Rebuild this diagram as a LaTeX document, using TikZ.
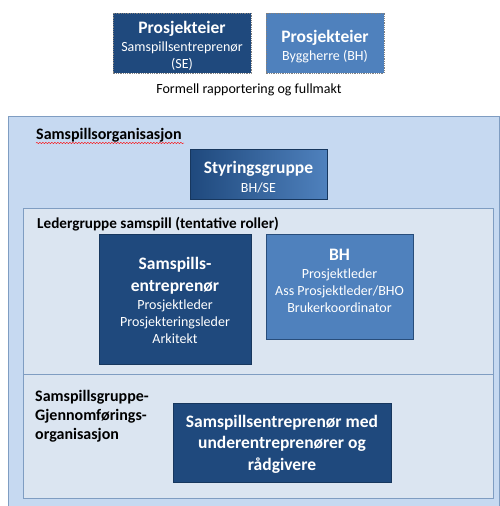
\documentclass[tikz,border=0pt]{standalone}
\usepackage{fontspec}
\setmainfont{Carlito}
\usetikzlibrary{decorations.pathmorphing}
\definecolor{darkb}{HTML}{1F497D}
\definecolor{midb}{HTML}{4F81BD}
\definecolor{outerf}{HTML}{C6D9F1}
\definecolor{innerf}{HTML}{DBE5F1}
\definecolor{panelb}{HTML}{7F9DC2}
\definecolor{boxb}{HTML}{17375E}
\tikzset{
  regf/.style={font=\fontsize{14}{17}\selectfont},
  panel/.style={draw=panelb, line width=1pt, fill=innerf},
  darkbox/.style={draw=boxb, line width=0.8pt, fill=darkb},
  midbox/.style={draw=boxb!70!midb, line width=0.8pt, fill=midb},
  boxtext/.style={text=white, align=center, inner sep=0pt, regf},
  lab/.style={anchor=base west, inner sep=0pt, font=\fontsize{16}{17}\selectfont\bfseries},
}
\newcommand{\bigb}[1]{{\fontsize{17.5}{17}\selectfont\bfseries #1}}
\begin{document}
\begin{tikzpicture}[x=1pt,y=-1pt]
\useasboundingbox (0,0) rectangle (499,506);
% top boxes
\draw[fill=darkb, draw=gray, densely dotted, line width=0.8pt] (113,13) rectangle (251,73);
\node[boxtext] (pe1) at (182,46) {\bigb{Prosjekteier}\\[1pt]Samspillsentreprenør\\(SE)};
\draw[fill=midb, draw=gray, densely dotted, line width=0.8pt] (266,13) rectangle (384,73);
\node[boxtext] (pe2) at (325,46.5) {\bigb{Prosjekteier}\\[1pt]Byggherre (BH)};
\node[regf, inner sep=0pt] (fr) at (249,90) {Formell rapportering og fullmakt};
% outer
\draw[fill=outerf, draw=panelb, line width=1pt] (8,116) rectangle (499,506);
\node[lab] (so) at (36,139) {Samspillsorganisasjon};
\draw[red, line width=0.4pt, decorate, decoration={snake, amplitude=0.7pt, segment length=3pt}] (36,143) -- (184,143);
% styringsgruppe
\shade[left color=darkb, right color=midb] (190,149) rectangle (327,199);
\draw[draw=boxb, line width=0.8pt] (190,149) rectangle (327,199);
\node[boxtext] (sg) at (258.5,177) {\bigb{Styringsgruppe}\\[2pt]BH/SE};
% panels
\draw[panel] (23,208) rectangle (493,374);
\node[lab, font=\fontsize{15.2}{17}\selectfont\bfseries] (lg) at (37,228) {Ledergruppe samspill (tentative roller)};
\draw[panel] (23,374) rectangle (493,498);
\node[lab, align=left, anchor=north west, font=\fontsize{16}{19}\selectfont\bfseries] (sgg) at (35,390) {Samspillsgruppe-\\Gjennomførings-\\organisasjon};
% SE box
\draw[darkbox] (99,234) rectangle (251,364);
\node[boxtext] (se) at (175,300.5) {\bigb{Samspills-}\\[5pt]\bigb{entreprenør}\\[1pt]Prosjektleder\\Prosjekteringsleder\\Arkitekt};
% BH box
\draw[midbox] (266,234) rectangle (413,339);
\node[boxtext] (bh) at (339.5,280.5) {\bigb{BH}\\[1pt]Prosjektleder\\Ass Prosjektleder/BHO\\Brukerkoordinator};
% bottom box
\draw[darkbox] (173,403) rectangle (391,482);
\node[boxtext, font=\fontsize{17.5}{21.5}\selectfont\bfseries] (su) at (282,444) {Samspillsentreprenør med\\underentreprenører og\\rådgivere};
\end{tikzpicture}
\end{document}
